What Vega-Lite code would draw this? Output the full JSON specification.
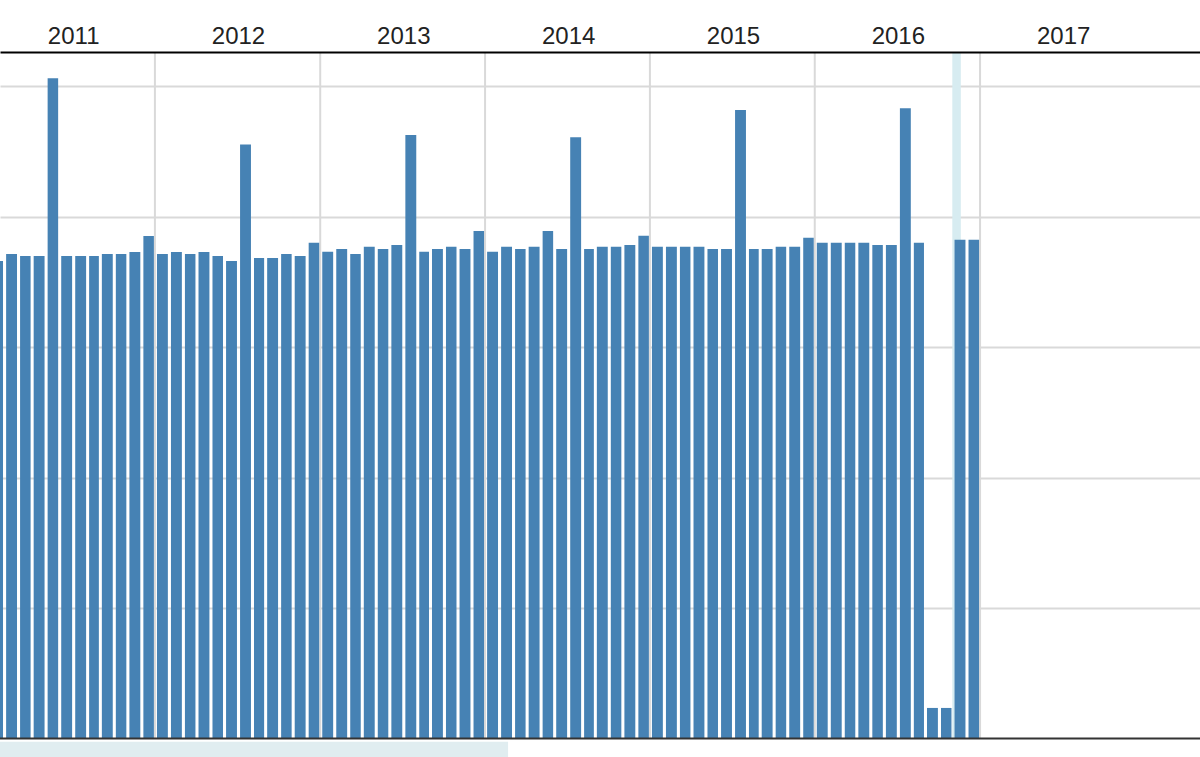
{
  "$schema": "https://vega.github.io/schema/vega-lite/v6.json",
  "width": 1200,
  "height": 705,
  "autosize": {"type": "none"},
  "padding": {"top": 52, "left": 0, "right": 0, "bottom": 0},
  "background": "#ffffff",
  "config": {"view": {"stroke": null}},
  "datasets": {
    "monthly": [
      {"month": "2010-07-01", "value": 365.9},
      {"month": "2010-08-01", "value": 371.3},
      {"month": "2010-09-01", "value": 369.7},
      {"month": "2010-10-01", "value": 369.7},
      {"month": "2010-11-01", "value": 505.9},
      {"month": "2010-12-01", "value": 369.7},
      {"month": "2011-01-01", "value": 369.7},
      {"month": "2011-02-01", "value": 369.7},
      {"month": "2011-03-01", "value": 371.3},
      {"month": "2011-04-01", "value": 371.3},
      {"month": "2011-05-01", "value": 372.8},
      {"month": "2011-06-01", "value": 385.1},
      {"month": "2011-07-01", "value": 371.3},
      {"month": "2011-08-01", "value": 372.8},
      {"month": "2011-09-01", "value": 371.3},
      {"month": "2011-10-01", "value": 372.8},
      {"month": "2011-11-01", "value": 369.7},
      {"month": "2011-12-01", "value": 365.9},
      {"month": "2012-01-01", "value": 455.3},
      {"month": "2012-02-01", "value": 368.2},
      {"month": "2012-03-01", "value": 368.2},
      {"month": "2012-04-01", "value": 371.3},
      {"month": "2012-05-01", "value": 369.7},
      {"month": "2012-06-01", "value": 379.9},
      {"month": "2012-07-01", "value": 373.0},
      {"month": "2012-08-01", "value": 375.1},
      {"month": "2012-09-01", "value": 371.3},
      {"month": "2012-10-01", "value": 376.9},
      {"month": "2012-11-01", "value": 375.1},
      {"month": "2012-12-01", "value": 378.2},
      {"month": "2013-01-01", "value": 462.5},
      {"month": "2013-02-01", "value": 373.0},
      {"month": "2013-03-01", "value": 375.1},
      {"month": "2013-04-01", "value": 376.9},
      {"month": "2013-05-01", "value": 375.1},
      {"month": "2013-06-01", "value": 388.9},
      {"month": "2013-07-01", "value": 373.0},
      {"month": "2013-08-01", "value": 376.9},
      {"month": "2013-09-01", "value": 375.1},
      {"month": "2013-10-01", "value": 376.9},
      {"month": "2013-11-01", "value": 388.9},
      {"month": "2013-12-01", "value": 375.1},
      {"month": "2014-01-01", "value": 460.7},
      {"month": "2014-02-01", "value": 375.1},
      {"month": "2014-03-01", "value": 376.9},
      {"month": "2014-04-01", "value": 376.9},
      {"month": "2014-05-01", "value": 378.2},
      {"month": "2014-06-01", "value": 385.3},
      {"month": "2014-07-01", "value": 376.9},
      {"month": "2014-08-01", "value": 376.9},
      {"month": "2014-09-01", "value": 376.9},
      {"month": "2014-10-01", "value": 376.9},
      {"month": "2014-11-01", "value": 375.1},
      {"month": "2014-12-01", "value": 375.1},
      {"month": "2015-01-01", "value": 481.6},
      {"month": "2015-02-01", "value": 375.1},
      {"month": "2015-03-01", "value": 375.1},
      {"month": "2015-04-01", "value": 376.9},
      {"month": "2015-05-01", "value": 376.9},
      {"month": "2015-06-01", "value": 383.8},
      {"month": "2015-07-01", "value": 379.9},
      {"month": "2015-08-01", "value": 379.9},
      {"month": "2015-09-01", "value": 379.9},
      {"month": "2015-10-01", "value": 379.9},
      {"month": "2015-11-01", "value": 378.2},
      {"month": "2015-12-01", "value": 378.2},
      {"month": "2016-01-01", "value": 482.9},
      {"month": "2016-02-01", "value": 379.9},
      {"month": "2016-03-01", "value": 23.4},
      {"month": "2016-04-01", "value": 23.4},
      {"month": "2016-05-01", "value": 382.2},
      {"month": "2016-06-01", "value": 382.2}
    ],
    "crosshair": [{"month": "2016-05-10"}],
    "grid": [
      {"g": "2011-07-01"}, {"g": "2012-07-01"}, {"g": "2013-07-01"},
      {"g": "2014-07-01"}, {"g": "2015-07-01"}, {"g": "2016-07-01"}
    ],
    "navigator": [{"start": "2010-07-23", "end": "2013-08-21", "top": -2.5, "bottom": -14.2}],
    "baseline": [{"v": 0}]
  },
  "layer": [
    {
      "data": {"name": "grid"},
      "mark": {"type": "rule", "color": "#d9d9d9", "strokeWidth": 2},
      "encoding": {
        "x": {"field": "g", "type": "temporal", "scale": {"type": "utc"}},
        "y": {"datum": 0},
        "y2": {"datum": 526.1}
      }
    },
    {
      "data": {"name": "crosshair"},
      "mark": {"type": "rule", "color": "#d7ecf1", "strokeWidth": 8.5},
      "encoding": {
        "x": {"field": "month", "type": "temporal", "scale": {"type": "utc"}},
        "y": {"datum": 0},
        "y2": {"datum": 526.1}
      }
    },
    {
      "data": {"name": "monthly"},
      "mark": {"type": "bar", "color": "#4682b4", "width": {"band": 0.85}},
      "encoding": {
        "x": {
          "field": "month",
          "type": "temporal",
          "timeUnit": "utcyearmonth",
          "scale": {
            "type": "utc",
            "domain": [
              {"year": 2010, "month": 7, "date": 23, "utc": true},
              {"year": 2017, "month": 10, "date": 31, "utc": true}
            ]
          },
          "axis": {
            "orient": "top",
            "values": [
              {"year": 2011, "month": 1, "date": 1, "utc": true},
              {"year": 2012, "month": 1, "date": 1, "utc": true},
              {"year": 2013, "month": 1, "date": 1, "utc": true},
              {"year": 2014, "month": 1, "date": 1, "utc": true},
              {"year": 2015, "month": 1, "date": 1, "utc": true},
              {"year": 2016, "month": 1, "date": 1, "utc": true},
              {"year": 2017, "month": 1, "date": 1, "utc": true}
            ],
            "format": "%Y",
            "title": null,
            "grid": false,
            "ticks": false,
            "domain": true,
            "domainColor": "#000000",
            "domainWidth": 2,
            "labelFont": "Liberation Sans",
            "labelFontSize": 24,
            "labelColor": "#222222",
            "labelPadding": 4,
            "labelFlush": false,
            "labelOverlap": false,
            "zindex": 1
          }
        },
        "y": {
          "field": "value",
          "type": "quantitative",
          "scale": {"domain": [-14.2, 526.1], "nice": false, "zero": false},
          "axis": {
            "values": [100, 200, 300, 400, 500],
            "title": null,
            "labels": false,
            "ticks": false,
            "domain": false,
            "grid": true,
            "gridColor": "#d9d9d9",
            "gridWidth": 2,
            "zindex": 0
          }
        },
        "y2": {"datum": 0}
      }
    },
    {
      "data": {"name": "navigator"},
      "mark": {"type": "rect", "color": "#e0edf0"},
      "encoding": {
        "x": {"field": "start", "type": "temporal", "scale": {"type": "utc"}},
        "x2": {"field": "end"},
        "y": {"field": "top", "type": "quantitative"},
        "y2": {"field": "bottom"}
      }
    },
    {
      "data": {"name": "baseline"},
      "mark": {"type": "rule", "color": "#333333", "strokeWidth": 2},
      "encoding": {"y": {"field": "v", "type": "quantitative"}}
    }
  ]
}
